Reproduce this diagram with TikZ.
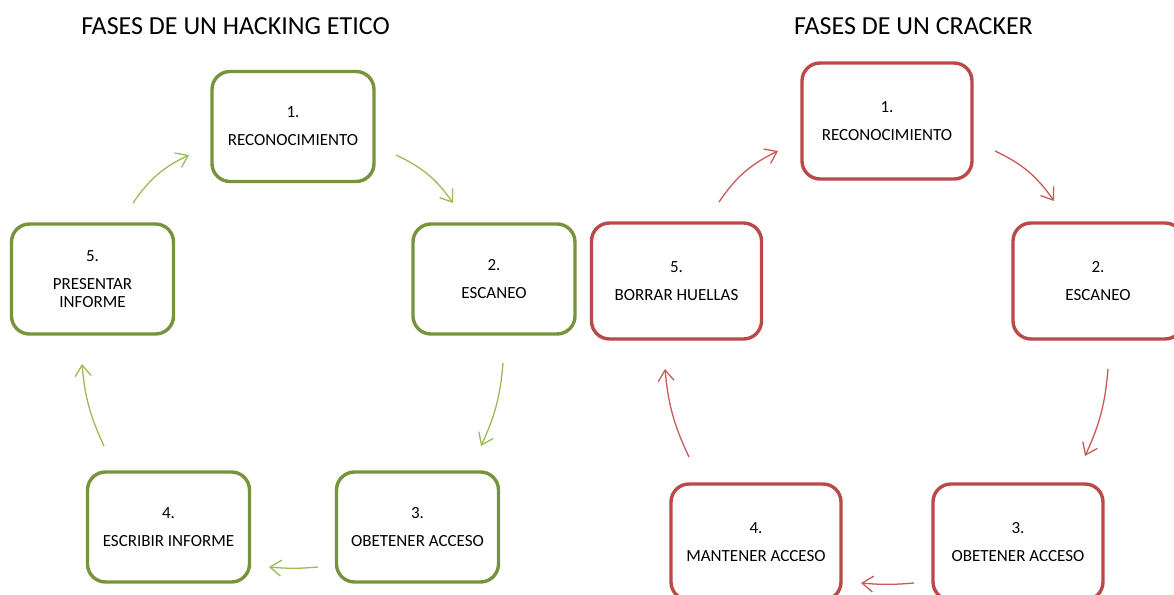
\documentclass[tikz,border=0pt]{standalone}
\usepackage{fontspec}
\setmainfont{Carlito}
\usetikzlibrary{arrows.meta}

\definecolor{okgreen}{RGB}{119,147,60}
\definecolor{okgreenlight}{RGB}{155,187,89}
\definecolor{badred}{RGB}{185,74,71}
\definecolor{badredlight}{RGB}{200,90,87}

\tikzset{
  phase/.style={draw, line width=3.4pt, rounded corners=18pt, align=center,
    font=\fontsize{17}{18}\selectfont, inner sep=0pt},
  goodphase/.style={phase, draw=okgreen, minimum width=162pt, minimum height=110pt},
  badphase/.style={phase, draw=badred, minimum width=170pt, minimum height=116pt},
  flow/.style={line width=1.3pt, -{Straight Barb[length=11pt,width=16pt,line width=1.3pt]}},
  goodflow/.style={flow, draw=okgreenlight},
  badflow/.style={flow, draw=badredlight},
  heading/.style={font=\fontsize{26}{30}\selectfont, inner sep=0pt}
}

\begin{document}
\begin{tikzpicture}[x=1pt,y=1pt]
  \useasboundingbox (0,0) rectangle (1174,594);
  \clip (0,0) rectangle (1174,594);

  % headings
  \node[heading] (hleft) at (235.5,568) {FASES DE UN HACKING ETICO};
  \node[heading] (hright) at (913.5,568) {FASES DE UN CRACKER};

  % ethical hacking cycle
  \node[goodphase] (g1) at (293,467.5) {1.\\[10pt]RECONOCIMIENTO};
  \node[goodphase] (g2) at (494,315)   {2.\\[10pt]ESCANEO};
  \node[goodphase] (g3) at (417.5,67)  {3.\\[10pt]OBETENER ACCESO};
  \node[goodphase] (g4) at (168.5,67)  {4.\\[10pt]ESCRIBIR INFORME};
  \node[goodphase] (g5) at (92.5,315)  {5.\\[10pt]PRESENTAR\\INFORME};

  \coordinate (g12s) at (396,439); \coordinate (g12e) at (453,391);
  \coordinate (g23s) at (503,231); \coordinate (g23e) at (481,148);
  \coordinate (g34s) at (318,27);  \coordinate (g34e) at (269,27);
  \coordinate (g45s) at (104,148); \coordinate (g45e) at (82,230);
  \coordinate (g51s) at (133,391); \coordinate (g51e) at (189,439);

  \draw[goodflow] (g12s) to[bend left=15] (g12e);
  \draw[goodflow] (g23s) to[bend left=10] (g23e);
  \draw[goodflow] (g34s) to[bend left=5]  (g34e);
  \draw[goodflow] (g45s) to[bend left=10] (g45e);
  \draw[goodflow] (g51s) to[bend left=15] (g51e);

  % cracker cycle
  \node[badphase] (r1) at (887,473)   {1.\\[10pt]RECONOCIMIENTO};
  \node[badphase] (r2) at (1098,313)  {2.\\[10pt]ESCANEO};
  \node[badphase] (r3) at (1018,52)   {3.\\[10pt]OBETENER ACCESO};
  \node[badphase] (r4) at (756,52)    {4.\\[10pt]MANTENER ACCESO};
  \node[badphase] (r5) at (676.5,313) {5.\\[10pt]BORRAR HUELLAS};

  \coordinate (r12s) at (995,443);  \coordinate (r12e) at (1054,393);
  \coordinate (r23s) at (1108,225); \coordinate (r23e) at (1085,138);
  \coordinate (r34s) at (914,11);   \coordinate (r34e) at (861,11);
  \coordinate (r45s) at (689,137);  \coordinate (r45e) at (665,225);
  \coordinate (r51s) at (719,392);  \coordinate (r51e) at (778,443);

  \draw[badflow] (r12s) to[bend left=15] (r12e);
  \draw[badflow] (r23s) to[bend left=10] (r23e);
  \draw[badflow] (r34s) to[bend left=5]  (r34e);
  \draw[badflow] (r45s) to[bend left=10] (r45e);
  \draw[badflow] (r51s) to[bend left=15] (r51e);
\end{tikzpicture}
\end{document}
